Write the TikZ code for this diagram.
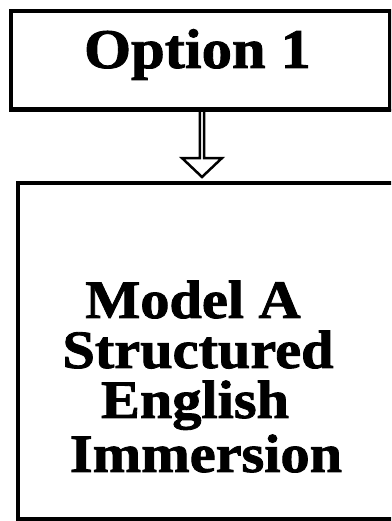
\documentclass[tikz,border=0pt]{standalone}
\usepackage{fontspec}
\newfontfamily\tbfont{Liberation Serif}[FakeStretch=1.08,FakeBold=1.6]
\usetikzlibrary{shapes.arrows}
\begin{document}
\begin{tikzpicture}[x=1pt,y=1pt,
  boxstyle/.style={draw=black, line width=3.5pt, rectangle, inner sep=0pt},
  labelstyle/.style={font=\tbfont\bfseries\fontsize{54}{60}\selectfont, inner sep=0pt, anchor=base},
  arrowstyle/.style={draw=black, line width=2.5pt, fill=white, single arrow, shape border rotate=270,
    minimum height=67pt, minimum width=40pt, single arrow head extend=10.5pt, single arrow tip angle=93, inner sep=0pt}]
\clip (0,0) rectangle (391,521);
\fill[white] (0,0) rectangle (391,521);
\node[boxstyle, minimum width=379pt, minimum height=98pt] (top) at (200.5,461) {};
\node[boxstyle, minimum width=402pt, minimum height=336pt] (bot) at (219,170) {};
\node[arrowstyle] (arr) at (202,378.5) {};
\draw[line width=3.5pt] (top.south west) -- (top.south east);
\node[labelstyle, font=\tbfont\bfseries\fontsize{56}{60}\selectfont] (t1) at (197.5,453) {Option 1};
\node[labelstyle] (l1) at (193,203) {Model A};
\node[labelstyle] (l2) at (198,153) {Structured};
\node[labelstyle] (l3) at (195,103) {English};
\node[labelstyle] (l4) at (206,49) {Immersion};
\end{tikzpicture}
\end{document}
